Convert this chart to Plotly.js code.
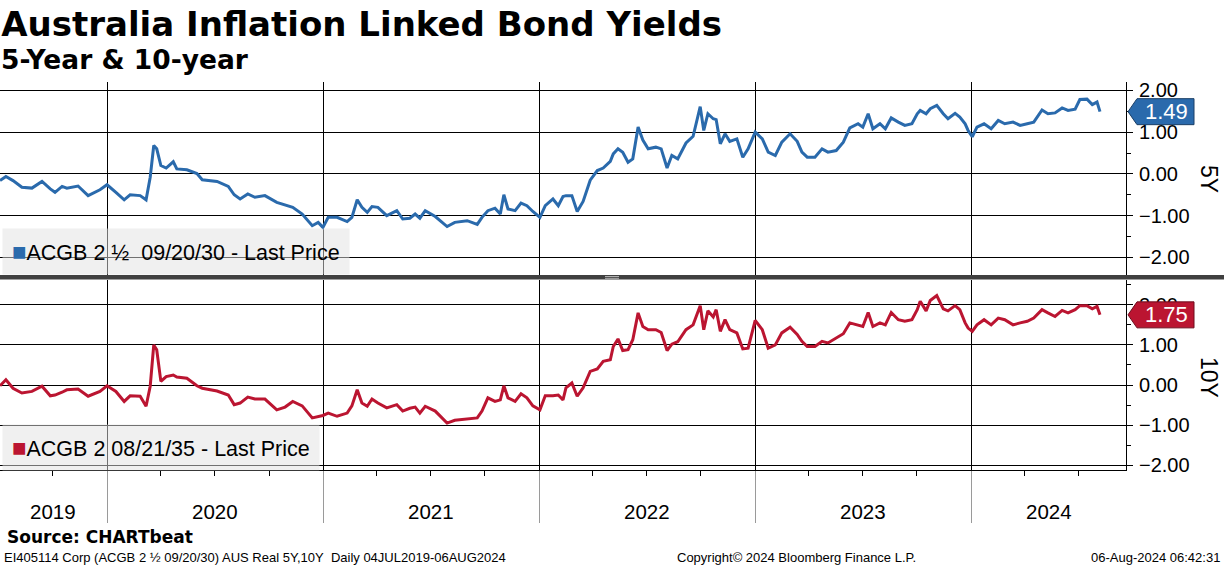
<!DOCTYPE html>
<html>
<head>
<meta charset="utf-8">
<script src="https://cdn.plot.ly/plotly-3.0.1.min.js"></script>
<style>
html,body{margin:0;padding:0;background:#fff;}
#chart{width:1224px;height:566px;}
</style>
</head>
<body>
<div id="chart"></div>
<script>
// ---- data ----
const dates = [
'2019-07-04','2019-07-14','2019-07-26','2019-08-10','2019-08-27','2019-09-13','2019-09-27','2019-10-05','2019-10-17','2019-10-25','2019-11-13','2019-11-30','2019-12-20',
'2020-01-01','2020-01-16','2020-01-30','2020-02-09','2020-02-26','2020-03-07','2020-03-14','2020-03-20','2020-03-25','2020-04-01','2020-04-10','2020-04-22','2020-04-28','2020-05-15','2020-06-01','2020-06-10','2020-07-05','2020-07-24','2020-08-03','2020-08-13','2020-08-26','2020-09-07','2020-09-24','2020-10-14','2020-10-28','2020-11-10','2020-11-26','2020-12-13','2020-12-23','2020-12-31',
'2021-01-09','2021-01-24','2021-02-10','2021-02-18','2021-02-27','2021-03-07','2021-03-16','2021-03-24','2021-04-03','2021-04-18','2021-05-05','2021-05-15','2021-05-27','2021-06-05','2021-06-13','2021-06-22','2021-07-09','2021-07-29','2021-08-11','2021-09-01','2021-09-18','2021-09-26','2021-10-06','2021-10-18','2021-10-27','2021-11-02','2021-11-09','2021-11-21','2021-12-01','2021-12-11','2021-12-21',
'2022-01-02','2022-01-11','2022-01-24','2022-02-02','2022-02-10','2022-02-15','2022-02-25','2022-03-06','2022-03-16','2022-03-28','2022-04-09','2022-04-19','2022-05-01','2022-05-06','2022-05-14','2022-05-22','2022-05-31','2022-06-08','2022-06-17','2022-06-25','2022-07-04','2022-07-17','2022-07-26','2022-08-05','2022-08-13','2022-08-23','2022-09-06','2022-09-18','2022-09-30','2022-10-06','2022-10-13','2022-10-22','2022-10-27','2022-11-03','2022-11-11','2022-11-19','2022-12-01','2022-12-11','2022-12-20',
'2023-01-01','2023-01-13','2023-01-23','2023-02-04','2023-02-15','2023-03-01','2023-03-13','2023-03-21','2023-03-30','2023-04-12','2023-04-24','2023-05-04','2023-05-18','2023-05-30','2023-06-10','2023-06-24','2023-07-02','2023-07-11','2023-07-19','2023-07-31','2023-08-09','2023-08-19','2023-08-31','2023-09-11','2023-09-23','2023-10-02','2023-10-07','2023-10-17','2023-10-24','2023-11-04','2023-11-15','2023-11-23','2023-12-05','2023-12-13','2023-12-22','2023-12-27',
'2024-01-03','2024-01-11','2024-01-23','2024-02-04','2024-02-16','2024-02-27','2024-03-12','2024-03-24','2024-04-05','2024-04-16','2024-04-30','2024-05-10','2024-05-22','2024-06-03','2024-06-13','2024-06-25','2024-07-03','2024-07-15','2024-07-24','2024-08-01','2024-08-06'
];

const yield5Y = [
-0.16,-0.06,-0.16,-0.32,-0.34,-0.18,-0.36,-0.44,-0.30,-0.34,-0.29,-0.52,-0.38,
-0.26,-0.44,-0.62,-0.50,-0.52,-0.62,-0.08,0.68,0.60,0.20,0.14,0.29,0.12,0.10,0.01,-0.14,-0.18,-0.30,-0.50,-0.60,-0.48,-0.56,-0.52,-0.68,-0.74,-0.80,-0.96,-1.24,-1.16,-1.28,
-1.04,-1.04,-1.14,-1.04,-0.62,-0.80,-0.92,-0.78,-0.80,-1.00,-0.88,-1.08,-1.06,-0.96,-1.06,-0.88,-1.02,-1.26,-1.16,-1.12,-1.21,-1.04,-0.88,-0.82,-0.96,-0.50,-0.84,-0.88,-0.70,-0.76,-0.90,
-1.04,-0.76,-0.60,-0.76,-0.54,-0.52,-0.52,-0.90,-0.66,-0.15,0.08,0.14,0.30,0.48,0.60,0.52,0.28,0.36,1.12,0.81,0.60,0.64,0.60,0.14,0.44,0.36,0.74,0.90,1.61,1.04,1.44,1.32,1.30,0.72,0.96,0.78,0.84,0.40,0.60,
1.00,0.84,0.52,0.44,0.76,0.96,0.78,0.52,0.40,0.40,0.60,0.52,0.56,0.76,1.10,1.20,1.12,1.44,1.08,1.20,1.08,1.34,1.24,1.16,1.20,1.44,1.52,1.44,1.56,1.64,1.44,1.32,1.45,1.36,1.20,1.04,
0.89,1.12,1.20,1.08,1.28,1.20,1.24,1.16,1.20,1.24,1.53,1.44,1.46,1.58,1.52,1.55,1.78,1.79,1.66,1.72,1.49
];

const yield10Y = [
-0.02,0.13,-0.08,-0.20,-0.16,-0.03,-0.27,-0.25,-0.18,-0.12,-0.10,-0.28,-0.16,
-0.02,-0.16,-0.41,-0.27,-0.28,-0.53,-0.03,1.00,0.88,0.09,0.21,0.25,0.20,0.17,-0.02,-0.08,-0.15,-0.25,-0.49,-0.45,-0.30,-0.35,-0.35,-0.62,-0.55,-0.41,-0.52,-0.82,-0.78,-0.76,
-0.70,-0.78,-0.70,-0.52,-0.12,-0.45,-0.53,-0.35,-0.45,-0.57,-0.49,-0.65,-0.58,-0.55,-0.70,-0.53,-0.65,-0.95,-0.88,-0.85,-0.82,-0.65,-0.32,-0.41,-0.37,-0.02,-0.32,-0.41,-0.22,-0.32,-0.52,
-0.62,-0.27,-0.27,-0.25,-0.37,-0.07,0.05,-0.28,-0.07,0.34,0.40,0.59,0.63,0.96,1.15,0.86,0.88,1.13,1.80,1.46,1.38,1.38,1.31,0.86,1.02,1.08,1.38,1.50,1.98,1.38,1.85,1.70,1.88,1.34,1.63,1.38,1.30,0.90,0.92,
1.61,1.38,0.92,1.00,1.30,1.44,1.26,1.09,0.96,0.96,1.09,1.05,1.17,1.28,1.55,1.50,1.46,1.81,1.46,1.55,1.50,1.81,1.63,1.59,1.63,1.88,2.09,1.85,2.11,2.23,1.90,1.85,1.98,1.88,1.55,1.42,
1.34,1.50,1.63,1.50,1.67,1.63,1.50,1.55,1.59,1.67,1.88,1.80,1.71,1.86,1.80,1.88,1.98,1.98,1.90,1.96,1.75
];

const yearStarts = ['2020-01-01','2021-01-01','2022-01-01','2023-01-01','2024-01-01'];
const yearLabels = ['2019','2020','2021','2022','2023','2024'];
const yearLabelDates = ['2019-10-02','2020-07-02','2021-07-02','2022-07-02','2023-07-02','2024-05-11'];

const name5Y = 'ACGB 2 \u00bd\u00a0 09/20/30 - Last Price';
const name10Y = 'ACGB 2 08/21/35 - Last Price';

// ---- styles ----
const BLUE = '#2a6aac';
const RED = '#bb1531';
const SANS = 'Liberation Sans, Arial, sans-serif';
const VERD = 'DejaVu Sans, Verdana, sans-serif';
const pxY = p => (470 - p) / 388;   // page pixel row -> paper fraction

const traces = [
  {x: dates, y: yield5Y, type: 'scatter', mode: 'lines', name: name5Y,
   xaxis: 'x', yaxis: 'y', line: {color: BLUE, width: 3}, hoverinfo: 'skip'},
  {x: dates, y: yield10Y, type: 'scatter', mode: 'lines', name: name10Y,
   xaxis: 'x', yaxis: 'y2', line: {color: RED, width: 3}, hoverinfo: 'skip'}
];

function yAxis(domain, range) {
  return {
    domain: domain, range: range, side: 'right', anchor: 'x',
    dtick: 1, tick0: 0, tickformat: '.2f',
    ticks: 'outside', ticklen: 6, tickcolor: '#000', tickwidth: 1,
    showline: true, linecolor: '#000', linewidth: 1,
    showgrid: true, gridcolor: '#000', gridwidth: 1, zeroline: false,
    tickfont: {family: SANS, size: 20, color: '#000'},
    ticklabelstandoff: 2,
    minor: {ticks: 'outside', ticklen: 4, dtick: 0.5, tick0: 0, tickcolor: '#000', showgrid: false},
    fixedrange: true
  };
}

const last5 = yield5Y[yield5Y.length - 1];
const last10 = yield10Y[yield10Y.length - 1];
const tagPath = 'M2,0 L11,13 L68,13 L68,-13 L11,-13 Z';

const annotations = [
  {xref: 'paper', yref: 'paper', x: -0.001, y: pxY(60), xanchor: 'left', yanchor: 'middle',
   text: '<b>5-Year &amp; 10-year</b>', showarrow: false,
   font: {family: VERD, size: 26.5, color: '#000'}},
  // legends
  {xref: 'paper', yref: 'paper', x: 0.0018, y: pxY(251), xanchor: 'left', yanchor: 'middle',
   text: '<span style="color:' + BLUE + ';font-size:24px">\u25A0</span>' + name5Y, showarrow: false,
   bgcolor: 'rgba(225,225,225,0.5)', borderpad: 9,
   font: {family: SANS, size: 21.5, color: '#000'}},
  {xref: 'paper', yref: 'paper', x: 0.0018, y: pxY(447), xanchor: 'left', yanchor: 'middle',
   text: '<span style="color:' + RED + ';font-size:24px">\u25A0</span>' + name10Y, showarrow: false,
   bgcolor: 'rgba(225,225,225,0.5)', borderpad: 9,
   font: {family: SANS, size: 21.5, color: '#000'}},
  // last value tags
  {xref: 'paper', yref: 'y', x: 1, xshift: 40, y: last5, xanchor: 'center', yanchor: 'middle',
   text: last5.toFixed(2), showarrow: false, font: {family: SANS, size: 22, color: '#fff'}},
  {xref: 'paper', yref: 'y2', x: 1, xshift: 40, y: last10, xanchor: 'center', yanchor: 'middle',
   text: last10.toFixed(2), showarrow: false, font: {family: SANS, size: 22, color: '#fff'}},
  // axis titles
  {xref: 'paper', yref: 'paper', x: 1, xshift: 83, y: pxY(179), xanchor: 'center', yanchor: 'middle',
   text: '5Y', textangle: 90, showarrow: false, font: {family: SANS, size: 23, color: '#000'}},
  {xref: 'paper', yref: 'paper', x: 1, xshift: 83, y: pxY(377), xanchor: 'center', yanchor: 'middle',
   text: '10Y', textangle: 90, showarrow: false, font: {family: SANS, size: 23, color: '#000'}},
  // footer
  {xref: 'paper', yref: 'paper', x: 0.004, y: pxY(537), xanchor: 'left', yanchor: 'middle',
   text: '<b>Source: CHARTbeat</b>', showarrow: false,
   font: {family: VERD, size: 17, color: '#000'}},
  {xref: 'paper', yref: 'paper', x: 0.0015, y: pxY(557), xanchor: 'left', yanchor: 'middle',
   text: 'EI405114 Corp (ACGB 2 \u00bd 09/20/30) AUS Real 5Y,10Y\u00a0\u00a0Daily 04JUL2019-06AUG2024', showarrow: false,
   font: {family: SANS, size: 13, color: '#000'}},
  {xref: 'paper', yref: 'paper', x: 796/1126, y: pxY(557), xanchor: 'center', yanchor: 'middle',
   text: 'Copyright\u00a9 2024 Bloomberg Finance L.P.', showarrow: false,
   font: {family: SANS, size: 13, color: '#000'}},
  {xref: 'paper', yref: 'paper', x: 1222/1126, y: pxY(557), xanchor: 'right', yanchor: 'middle',
   text: '06-Aug-2024 06:42:31', showarrow: false,
   font: {family: SANS, size: 13, color: '#000'}}
];

yearLabels.forEach((t, i) => annotations.push({
  xref: 'x', yref: 'paper', x: yearLabelDates[i], y: pxY(511), xanchor: 'center', yanchor: 'middle',
  text: t, showarrow: false, font: {family: SANS, size: 20.5, color: '#000'}
}));

const shapes = [
  // panel separator
  {type: 'rect', xref: 'paper', yref: 'paper', x0: 0, x1: 1224/1126, y0: pxY(279.5), y1: pxY(275),
   fillcolor: '#404040', line: {width: 0}, layer: 'above'},
  {type: 'line', xref: 'paper', yref: 'paper', x0: 605/1126, x1: 619/1126, y0: pxY(276.5), y1: pxY(276.5),
   line: {color: '#b0b0b0', width: 1}},
  {type: 'line', xref: 'paper', yref: 'paper', x0: 605/1126, x1: 619/1126, y0: pxY(278.3), y1: pxY(278.3),
   line: {color: '#b0b0b0', width: 1}},
  // last value tags
  {type: 'path', xref: 'paper', xsizemode: 'pixel', xanchor: 1, yref: 'y', ysizemode: 'pixel', yanchor: last5,
   path: tagPath, fillcolor: BLUE, line: {color: '#1b3f66', width: 1}, layer: 'above'},
  {type: 'path', xref: 'paper', xsizemode: 'pixel', xanchor: 1, yref: 'y2', ysizemode: 'pixel', yanchor: last10,
   path: tagPath, fillcolor: RED, line: {color: '#6e0c1c', width: 1}, layer: 'above'}
];

const layout = {
  width: 1224, height: 566,
  margin: {l: 0, r: 98, t: 82, b: 96, pad: 0},
  paper_bgcolor: '#fff', plot_bgcolor: '#fff',
  showlegend: false,
  title: {
    text: '<b>Australia Inflation Linked Bond Yields</b>',
    x: 0.001, xanchor: 'left', xref: 'container',
    y: 1 - 24/566, yanchor: 'middle', yref: 'container',
    font: {family: VERD, size: 34, color: '#000'}
  },
  xaxis: {
    type: 'date', range: ['2019-07-04', '2024-09-19'], anchor: 'y2',
    tickvals: yearStarts, showticklabels: false,
    ticks: 'outside', ticklen: 52, tickcolor: '#9a9a9a', tickwidth: 1,
    showgrid: true, gridcolor: '#000', gridwidth: 1,
    showline: true, linecolor: '#000', linewidth: 1, zeroline: false,
    minor: {ticks: 'outside', ticklen: 5, tickcolor: '#000', dtick: 'M3', tick0: '2019-01-01', showgrid: false},
    fixedrange: true
  },
  yaxis: yAxis([pxY(275), 1], [-2.42, 2.2]),
  yaxis2: yAxis([0, pxY(280)], [-2.12, 2.62]),
  annotations: annotations,
  shapes: shapes
};

Plotly.newPlot('chart', traces, layout, {displayModeBar: false, staticPlot: true});
</script>
</body>
</html>
